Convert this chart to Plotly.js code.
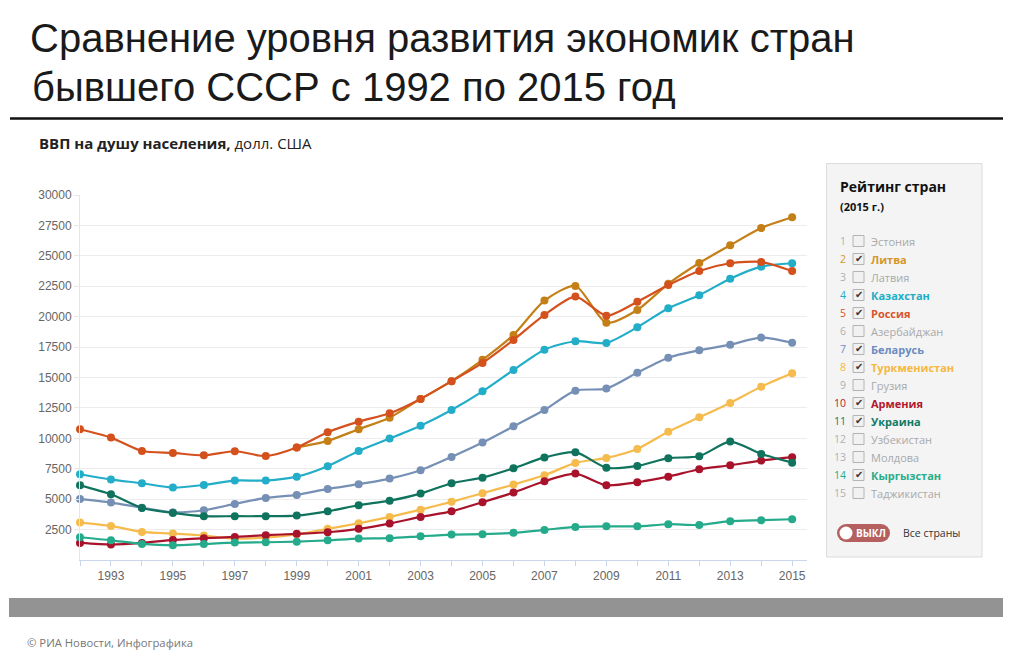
<!DOCTYPE html>
<html>
<head>
<meta charset="utf-8">
<script src="https://cdn.plot.ly/plotly-3.0.1.min.js"></script>
<style>
html,body{margin:0;padding:0;background:#fff;}
#chart{width:1013px;height:658px;}
</style>
</head>
<body>
<div id="chart"></div>
<script>
// ---- data ----
var years = [1992,1993,1994,1995,1996,1997,1998,1999,2000,2001,2002,2003,2004,2005,2006,2007,2008,2009,2010,2011,2012,2013,2014,2015];
var xTickYears = [1993,1995,1997,1999,2001,2003,2005,2007,2009,2011,2013,2015];
var yTickValues = [2500,5000,7500,10000,12500,15000,17500,20000,22500,25000,27500,30000];

var lithuania    = [null,null,null,null,null,null,null,9250,9790,10750,11700,13240,14700,16450,18500,21320,22520,19510,20550,22700,24410,25870,27290,28170];
var kazakhstan   = [7050,6610,6310,5950,6170,6530,6530,6850,7710,8960,9980,11040,12330,13860,15620,17290,17980,17840,19130,20690,21760,23120,24110,24390];
var russia       = [10750,10060,8960,8800,8610,8940,8550,9250,10500,11370,12060,13240,14700,16200,18090,20140,21650,20080,21230,22600,23760,24390,24500,23750];
var belarus      = [5020,4720,4300,3920,4090,4610,5100,5350,5840,6230,6690,7380,8470,9650,10990,12330,13920,14090,15400,16630,17240,17700,18280,17860];
var turkmenistan = [3080,2800,2310,2170,2010,1750,1850,2100,2560,3020,3540,4140,4780,5490,6200,6960,7980,8390,9130,10550,11730,12910,14250,15350];
var armenia      = [1400,1270,1400,1650,1790,1900,2040,2150,2280,2560,2990,3540,4000,4750,5540,6470,7100,6140,6390,6850,7460,7790,8170,8450];
var ukraine      = [6140,5400,4280,3870,3600,3600,3600,3650,4000,4500,4880,5460,6310,6770,7540,8430,8860,7590,7730,8370,8530,9730,8720,8000];
var kyrgyzstan   = [1870,1620,1320,1210,1320,1430,1460,1510,1620,1760,1790,1950,2090,2120,2230,2470,2720,2770,2770,2940,2880,3190,3270,3350];

var rankNames = ["Эстония","Литва","Латвия","Казахстан","Россия","Азербайджан","Беларусь","Туркменистан","Грузия","Армения","Украина","Узбекистан","Молдова","Кыргызстан","Таджикистан"];
var rankShown = [false,true,false,true,true,false,true,true,false,true,true,false,false,true,false];

var titleLine1 = "Сравнение уровня развития экономик стран";
var titleLine2 = "бывшего СССР с 1992 по 2015 год";
var subtitleBold = "ВВП на душу населения,";
var subtitleRest = " долл. США";
var panelTitle = "Рейтинг стран";
var panelYear = "(2015 г.)";
var toggleLabel = "ВЫКЛ";
var toggleText = "Все страны";
var footerText = "© РИА Новости, Инфографика";

// ---- styles ----
var seriesList = [
  {name:"Литва", y:lithuania, color:"#c47f17"},
  {name:"Казахстан", y:kazakhstan, color:"#22adc8"},
  {name:"Россия", y:russia, color:"#d4501c"},
  {name:"Беларусь", y:belarus, color:"#7690b5"},
  {name:"Туркменистан", y:turkmenistan, color:"#f5bb4d"},
  {name:"Армения", y:armenia, color:"#a8132b"},
  {name:"Украина", y:ukraine, color:"#0f735d"},
  {name:"Кыргызстан", y:kyrgyzstan, color:"#25ab8b"}
];
var labelColors = {"Литва":"#d4952b","Казахстан":"#20aec6","Россия":"#d9542b","Беларусь":"#6a8cbf","Туркменистан":"#f4b843","Армения":"#b3182e","Украина":"#0e7a64","Кыргызстан":"#26ae8b"};

var traces = seriesList.map(function(s){
  return {
    x: years, y: s.y, name: s.name, type:"scatter", mode:"lines+markers",
    line:{color:s.color, width:2.2, shape:"spline", smoothing:0.7},
    marker:{color:s.color, size:8},
    connectgaps:false, cliponaxis:false, hoverinfo:"skip", showlegend:false
  };
});

// pixel -> paper helpers (plot area: x 80..807, y 195..560)
var L=80, R=807, T=195, B=560;
function X(px){return (px-L)/(R-L);}
function Y(py){return (B-py)/(B-T);}

var shapes = [];
var ann = [];

// black rule under title
shapes.push({type:"line", xref:"paper", yref:"paper", x0:X(10), x1:X(1003), y0:Y(118.5), y1:Y(118.5), line:{color:"#111", width:2.5}});
// grey bottom bar
shapes.push({type:"rect", xref:"paper", yref:"paper", x0:X(9), x1:X(1003), y0:Y(617), y1:Y(598), fillcolor:"#939393", line:{width:0}});
// legend panel
shapes.push({type:"rect", xref:"paper", yref:"paper", x0:X(826.5), x1:X(982), y0:Y(557), y1:Y(163.5), fillcolor:"#f4f4f4", line:{color:"#dcdcdc", width:1}, layer:"below"});

ann.push({xref:"paper", yref:"paper", x:X(30), y:Y(87), xanchor:"left", yanchor:"middle", showarrow:false,
  text:titleLine2, font:{family:"Liberation Sans, Arial, sans-serif", size:40, color:"#1a1a1a"}});
ann.push({xref:"paper", yref:"paper", x:X(37), y:Y(143), xanchor:"left", yanchor:"middle", showarrow:false,
  text:"<b>"+subtitleBold+"</b>"+subtitleRest, font:{family:"Open Sans, sans-serif", size:15, color:"#222"}});
ann.push({xref:"paper", yref:"paper", x:X(838), y:Y(186), xanchor:"left", yanchor:"middle", showarrow:false,
  text:"<b>"+panelTitle+"</b>", font:{family:"Open Sans, sans-serif", size:14, color:"#111"}});
ann.push({xref:"paper", yref:"paper", x:X(838), y:Y(206), xanchor:"left", yanchor:"middle", showarrow:false,
  text:"<b>"+panelYear+"</b>", font:{family:"Open Sans, sans-serif", size:11, color:"#111"}});

rankNames.forEach(function(nm,i){
  var yc = 241 + 18*i;
  var on = rankShown[i];
  var col = on ? labelColors[nm] : "#a9a9a9";
  ann.push({xref:"paper", yref:"paper", x:X(848), y:Y(yc), xanchor:"right", yanchor:"middle", showarrow:false,
    text:String(i+1), font:{family:"Open Sans, sans-serif", size:10.5, color: on ? col : "#b0b0b0"}});
  shapes.push({type:"rect", xref:"paper", yref:"paper", x0:X(853), x1:X(864), y0:Y(yc+5.5), y1:Y(yc-5.5), fillcolor:"#f1f1f1", line:{color:"#b4b4b4", width:1}});
  if(on){
    ann.push({xref:"paper", yref:"paper", x:X(858.8), y:Y(yc-0.5), xanchor:"center", yanchor:"middle", showarrow:false,
      text:"✔", font:{family:"DejaVu Sans, sans-serif", size:10, color:"#333"}});
  }
  ann.push({xref:"paper", yref:"paper", x:X(869), y:Y(yc), xanchor:"left", yanchor:"middle", showarrow:false,
    text: on ? "<b>"+nm+"</b>" : nm, font:{family:"Open Sans, sans-serif", size:11, color:col}});
});

// toggle pill
var ty = 533;
shapes.push({type:"circle", xref:"paper", yref:"paper", x0:X(837), x1:X(855), y0:Y(ty+9), y1:Y(ty-9), fillcolor:"#b5605e", line:{width:0}});
shapes.push({type:"circle", xref:"paper", yref:"paper", x0:X(872), x1:X(890), y0:Y(ty+9), y1:Y(ty-9), fillcolor:"#b5605e", line:{width:0}});
shapes.push({type:"rect", xref:"paper", yref:"paper", x0:X(846), x1:X(881), y0:Y(ty+9), y1:Y(ty-9), fillcolor:"#b5605e", line:{width:0}});
shapes.push({type:"circle", xref:"paper", yref:"paper", x0:X(839.5), x1:X(852.5), y0:Y(ty+6.5), y1:Y(ty-6.5), fillcolor:"#ffffff", line:{width:0}});
ann.push({xref:"paper", yref:"paper", x:X(871), y:Y(ty), xanchor:"center", yanchor:"middle", showarrow:false,
  text:"<b>"+toggleLabel+"</b>", font:{family:"Open Sans, sans-serif", size:10, color:"#fff"}});
ann.push({xref:"paper", yref:"paper", x:X(901), y:Y(ty), xanchor:"left", yanchor:"middle", showarrow:false,
  text:toggleText, font:{family:"Open Sans, sans-serif", size:10.5, color:"#333"}});

ann.push({xref:"paper", yref:"paper", x:X(25), y:Y(642), xanchor:"left", yanchor:"middle", showarrow:false,
  text:footerText, font:{family:"Open Sans, sans-serif", size:11.3, color:"#777"}});

var layout = {
  width:1013, height:658,
  margin:{l:L, r:1013-R, t:T, b:658-B, pad:0},
  paper_bgcolor:"#fff", plot_bgcolor:"#fff",
  title:{text:titleLine1, xref:"container", yref:"container", x:30/1013, xanchor:"left", y:1-38/658, yanchor:"middle",
    font:{family:"Liberation Sans, Arial, sans-serif", size:40, color:"#1a1a1a"}},
  xaxis:{range:[1992, 2015.48], tickvals:xTickYears, ticktext:xTickYears.map(String),
    ticks:"outside", ticklen:5, tickcolor:"#ccd6eb", showline:true, linecolor:"#ccd6eb", linewidth:1,
    showgrid:false, zeroline:false, fixedrange:true,
    minor:{tick0:1992, dtick:1, ticks:"outside", ticklen:5, tickcolor:"#ccd6eb", showgrid:false},
    tickfont:{family:"Liberation Sans, Arial, sans-serif", size:12, color:"#666"}},
  yaxis:{range:[0,30000], tickvals:yTickValues, ticktext:yTickValues.map(String),
    ticks:"outside", ticklen:5, tickcolor:"#e6e6e6", showline:true, linecolor:"#e6e6e6", linewidth:1,
    showgrid:true, gridcolor:"#ececec", gridwidth:1, zeroline:false, fixedrange:true,
    tickfont:{family:"Liberation Sans, Arial, sans-serif", size:12, color:"#666"}},
  shapes:shapes, annotations:ann, showlegend:false, hovermode:false
};

Plotly.newPlot("chart", traces, layout, {displayModeBar:false, staticPlot:true});
</script>
</body>
</html>
